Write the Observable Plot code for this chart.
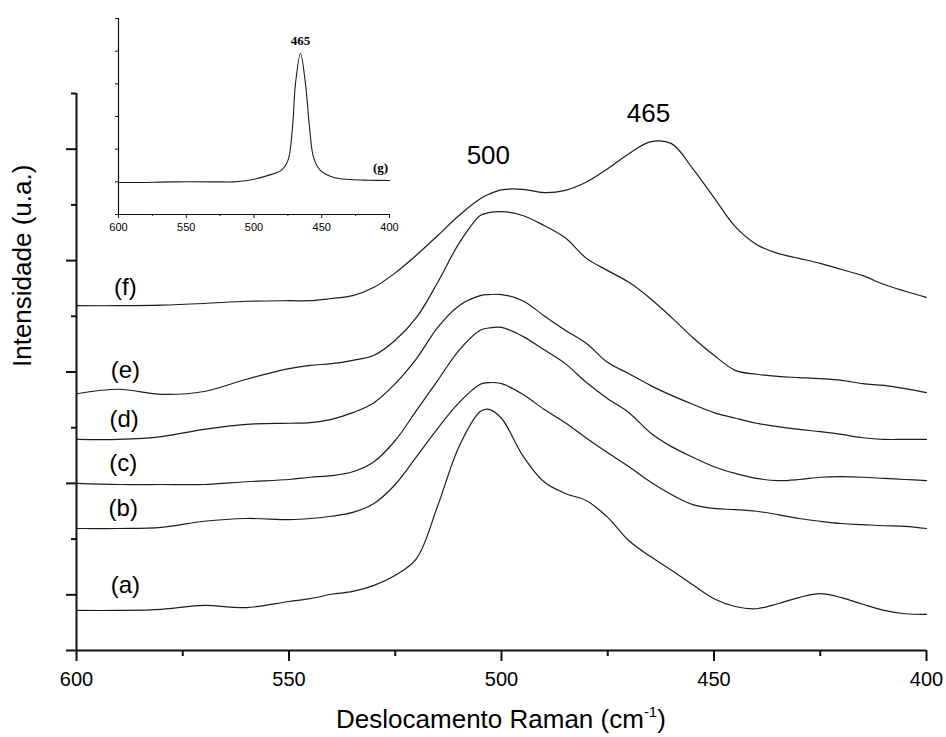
<!DOCTYPE html>
<html>
<head>
<meta charset="utf-8">
<script src="https://cdn.jsdelivr.net/npm/d3@7"></script>
<script src="https://cdn.jsdelivr.net/npm/@observablehq/plot@0.6"></script>
<style>
  html, body { margin: 0; padding: 0; background: #fff; }
  #wrap { position: relative; width: 946px; height: 737px; overflow: hidden; font-family: 'Liberation Sans', Arial, sans-serif; }
  #main, #inset { position: absolute; }
  #main { left: 0; top: 0; }
  #inset { left: 100px; top: 10px; }
  #xtitle { position: absolute; left: 76px; width: 850px; top: 704px; text-align: center; font-size: 26px; line-height: 30px; color: #000; }
  #xtitle sup { font-size: 15px; vertical-align: 0; position: relative; top: -11px; }
</style>
</head>
<body>
<div id="wrap">
  <div id="main"></div>
  <div id="inset"></div>
  <div id="xtitle">Deslocamento Raman (cm<sup>-1</sup>)</div>
</div>
<script>
// ---- Data ----
const wavenumbers = [600,590,580,570,560,550,545,540,535,530,525,520,515,510,505,503,500,495,490,485,480,475,470,465,460,455,450,445,440,435,430,425,420,415,410,405,400];
const seriesA = [0.72,0.72,0.74,0.81,0.77,0.88,0.93,1.01,1.06,1.17,1.35,1.65,2.60,3.66,4.29,4.33,4.17,3.50,3.03,2.82,2.69,2.39,1.97,1.69,1.44,1.18,0.93,0.79,0.75,0.84,0.95,1.02,0.95,0.83,0.72,0.66,0.65];
const seriesB = [2.19,2.19,2.21,2.32,2.37,2.35,2.37,2.41,2.48,2.64,2.98,3.48,3.99,4.45,4.78,4.81,4.79,4.60,4.33,4.09,3.81,3.55,3.30,3.03,2.80,2.62,2.55,2.53,2.50,2.44,2.37,2.32,2.28,2.26,2.24,2.23,2.19];
const seriesC = [3.00,2.98,2.98,2.98,3.03,3.07,3.11,3.14,3.21,3.39,3.77,4.31,4.85,5.39,5.75,5.79,5.80,5.64,5.40,5.15,4.81,4.52,4.27,3.91,3.66,3.47,3.30,3.18,3.09,3.05,3.07,3.11,3.12,3.11,3.09,3.07,3.05];
const seriesD = [3.79,3.79,3.84,3.97,4.06,4.08,4.09,4.15,4.27,4.45,4.79,5.24,5.80,6.19,6.37,6.39,6.39,6.28,6.01,5.75,5.51,5.17,4.97,4.76,4.58,4.42,4.27,4.17,4.08,4.02,3.97,3.93,3.88,3.82,3.79,3.79,3.79];
const seriesE = [4.61,4.69,4.60,4.65,4.87,5.06,5.12,5.15,5.21,5.30,5.57,5.98,6.61,7.31,7.81,7.86,7.88,7.81,7.63,7.41,7.04,6.82,6.61,6.32,5.98,5.62,5.30,5.03,4.96,4.92,4.90,4.88,4.85,4.79,4.76,4.70,4.63];
const seriesF = [6.19,6.19,6.20,6.23,6.27,6.28,6.28,6.32,6.37,6.52,6.78,7.10,7.45,7.81,8.11,8.19,8.27,8.28,8.22,8.26,8.41,8.65,8.92,9.13,9.10,8.65,8.13,7.61,7.29,7.13,7.04,6.95,6.84,6.73,6.57,6.45,6.34];

const curveNames = ["(a)","(b)","(c)","(d)","(e)","(f)"];
const curveLabelX = [588.5,589.0,589.0,588.8,588.5,588.5];
const curveLabelY = [1.17,2.55,3.36,4.15,5.03,6.52];

const peakNames = ["500","465"];
const peakX = [503.1,465.4];
const peakY = [8.89,9.64];

const xMajorTicks = [600,550,500,450,400];
const xMinorTicks = [575,525,475,425];
const yMajorTicks = [0,1,3,5,7,9];
const yMinorTicks = [2,4,6,8,10];

// Inset (g)
const gWavenumbers = [600,585,560,530,515,505,490,480,475,471.6,469.4,465.7,462,459,456,451,441,429,415,400];
const gValues = [0.98,0.98,1.0,1.0,1.0,1.04,1.19,1.35,1.65,2.66,4.0,4.93,4.0,2.66,1.74,1.35,1.13,1.07,1.05,1.04];
const gYTicks = [0,1,2,3,4,5,6];
const gLabels = ["465","(g)"];
const gLabelX = [465.7,406.6];
const gLabelY = [5.32,1.44];

// ---- Build ----
const allSeries = [seriesA, seriesB, seriesC, seriesD, seriesE, seriesF];
const lineData = [];
allSeries.forEach((s, i) => s.forEach((v, j) => lineData.push({w: wavenumbers[j], I: v, name: curveNames[i]})));
const curveLabelData = curveNames.map((n, i) => ({n, x: curveLabelX[i], y: curveLabelY[i]}));
const peakData = peakNames.map((n, i) => ({n, x: peakX[i], y: peakY[i]}));

const ink = "#111";
const font = "'Liberation Sans', Arial, sans-serif";

const main = Plot.plot({
  width: 946, height: 737,
  marginLeft: 76, marginRight: 20, marginTop: 93, marginBottom: 87,
  x: {domain: [600, 400], axis: null},
  y: {domain: [0, 10], axis: null},
  style: {fontFamily: font, color: "#000", background: "transparent", overflow: "visible"},
  marks: [
    Plot.line(lineData, {x: "w", y: "I", z: "name", stroke: "#1c1c1c", strokeWidth: 1.2, curve: "catmull-rom"}),
    Plot.axisX(xMajorTicks, {anchor: "bottom", tickSize: 11, tickPadding: 10, fontSize: 20, strokeWidth: 2, stroke: ink, label: null, tickFormat: d => String(d)}),
    Plot.axisX(xMinorTicks, {anchor: "bottom", tickSize: 6, strokeWidth: 2, stroke: ink, label: null, tickFormat: () => ""}),
    Plot.axisY(yMajorTicks, {anchor: "left", tickSize: 10, strokeWidth: 2, stroke: ink, label: null, tickFormat: () => ""}),
    Plot.axisY(yMinorTicks, {anchor: "left", tickSize: 5, strokeWidth: 2, stroke: ink, label: null, tickFormat: () => ""}),
    Plot.ruleY([0], {stroke: ink, strokeWidth: 2}),
    Plot.ruleX([600], {stroke: ink, strokeWidth: 2}),
    Plot.text(curveLabelData, {x: "x", y: "y", text: "n", fontSize: 24, fill: "#000"}),
    Plot.text(peakData, {x: "x", y: "y", text: "n", fontSize: 26, fill: "#000"}),
    Plot.text(["Intensidade (u.a.)"], {frameAnchor: "left", rotate: -90, dx: -54, dy: -5, fontSize: 26, fill: "#000"})
  ]
});
document.getElementById("main").appendChild(main);

const gData = gWavenumbers.map((w, i) => ({w, I: gValues[i]}));
const gLabelData = gLabels.map((n, i) => ({n, x: gLabelX[i], y: gLabelY[i]}));

const inset = Plot.plot({
  width: 300, height: 230,
  marginLeft: 18, marginRight: 11, marginTop: 8, marginBottom: 26,
  x: {domain: [600, 400], axis: null},
  y: {domain: [0, 6], axis: null},
  style: {fontFamily: font, color: "#000", background: "transparent", overflow: "visible"},
  marks: [
    Plot.line(gData, {x: "w", y: "I", stroke: "#1c1c1c", strokeWidth: 1.1, curve: "catmull-rom"}),
    Plot.axisX(xMajorTicks, {anchor: "bottom", tickSize: 4, tickPadding: 5, fontSize: 11, stroke: ink, label: null, tickFormat: d => String(d)}),
    Plot.axisX(xMinorTicks, {anchor: "bottom", tickSize: 2, stroke: ink, label: null, tickFormat: () => ""}),
    Plot.axisY(gYTicks, {anchor: "left", tickSize: 3, stroke: ink, label: null, tickFormat: () => ""}),
    Plot.ruleY([0], {stroke: ink, strokeWidth: 1.2}),
    Plot.ruleX([600], {stroke: ink, strokeWidth: 1.2}),
    Plot.text(gLabelData, {x: "x", y: "y", text: "n", fontSize: 13, fontWeight: "bold", fontFamily: "'Liberation Serif', 'Times New Roman', serif", fill: "#000"})
  ]
});
document.getElementById("inset").appendChild(inset);
</script>
</body>
</html>
